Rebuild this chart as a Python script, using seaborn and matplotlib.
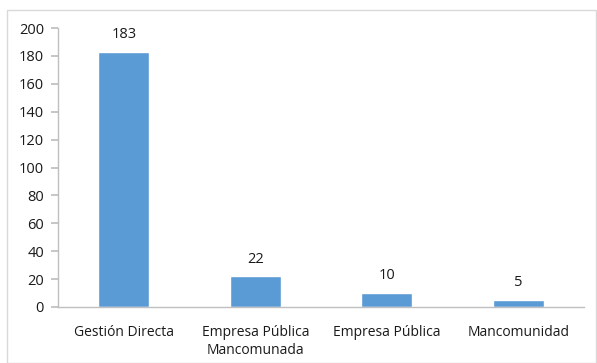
import matplotlib
matplotlib.use("Agg")
import matplotlib.pyplot as plt
import seaborn as sns
import pandas as pd
from matplotlib.patches import Rectangle

categories = ["Gestión Directa", "Empresa Pública\nMancomunada", "Empresa Pública", "Mancomunidad"]
values = [183, 22, 10, 5]
yticks = [0, 20, 40, 60, 80, 100, 120, 140, 160, 180, 200]

sns.set_theme(style="white")
plt.rcParams['font.family'] = ['Open Sans', 'DejaVu Sans']

df = pd.DataFrame({"cat": categories, "val": values})

fig = plt.figure(figsize=(5.97, 3.63), dpi=100)
ax = fig.add_axes([58/597, 1 - 307/363, (584 - 58)/597, (307 - 28)/363])
sns.barplot(data=df, x="cat", y="val", color="#5B9BD5", width=0.39, saturation=1, ax=ax)

ax.set_ylim(0, 200)
ax.set_xlim(-0.5, 3.5)
ax.set_yticks(yticks)
ax.set_xlabel("")
ax.set_ylabel("")
for s in ["top", "right"]:
    ax.spines[s].set_visible(False)
for s in ["left", "bottom"]:
    ax.spines[s].set_color("#BFBFBF")
    ax.spines[s].set_linewidth(1)
ax.tick_params(axis="y", which="both", left=True, length=5, color="#BFBFBF", labelsize=10.5, labelcolor="#1a1a1a", pad=5)
ax.tick_params(axis="x", bottom=False, labelsize=10, labelcolor="#1a1a1a", pad=7)
for t in ax.get_xticklabels():
    t.set_linespacing(1.25)

for i, v in enumerate(values):
    ax.annotate(str(v), (i, v), xytext=(0, 7), textcoords="offset points",
                ha="center", va="bottom", fontsize=10.5, color="#1a1a1a")

fig.patches.append(Rectangle((7/597, 0), 1 - 7/597 - 1/597, 1 - 10/363, transform=fig.transFigure,
                             fill=False, edgecolor="#D9D9D9", linewidth=1))

fig.savefig("out.png", dpi=100)
